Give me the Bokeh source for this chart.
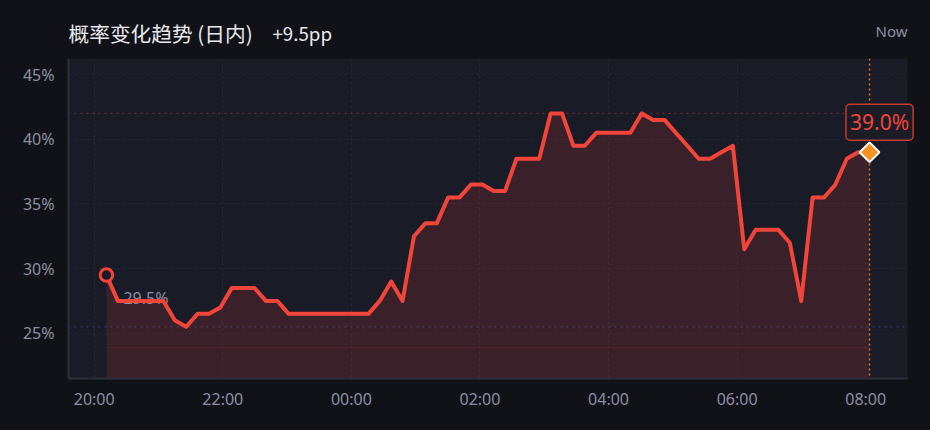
import numpy as np
from bokeh.plotting import figure
from bokeh.layouts import column
from bokeh.models import FixedTicker, Span, Label, Range1d, BoxAnnotation
from bokeh.core.properties import value
from bokeh.embed import file_html
from bokeh.resources import INLINE

# ---- data ----
tick_hours = [0, 2, 4, 6, 8, 10, 12]          # hours after 20:00
tick_labels = ["20:00", "22:00", "00:00", "02:00", "04:00", "06:00", "08:00"]
y_ticks = [25, 30, 35, 40, 45]
y_tick_labels = ["25%", "30%", "35%", "40%", "45%"]

start_hour = 0.19    # ~20:11
end_hour = 12.06     # ~08:03 (now)
prob = [29.5,
        27.5, 27.5, 27.5, 27.5, 27.5,
        26.0, 25.5, 26.5, 26.5, 27.0,
        28.5, 28.5, 28.5, 27.5, 27.5,
        26.5, 26.5, 26.5, 26.5, 26.5, 26.5, 26.5, 26.5,
        27.5, 29.0, 27.5, 32.5, 33.5, 33.5,
        35.5, 35.5, 36.5, 36.5, 36.0, 36.0,
        38.5, 38.5, 38.5, 42.0, 42.0, 39.5, 39.5,
        40.5, 40.5, 40.5, 40.5, 42.0, 41.5, 41.5,
        40.5, 39.5, 38.5, 38.5, 39.0, 39.5,
        31.5, 33.0, 33.0, 33.0, 32.0, 27.5,
        35.5, 35.5, 36.5, 38.5, 39.0, 39.0]
band_floor = 23.9

title_text = "概率变化趋势 (日内)"
now_text = "Now"

t = np.linspace(start_hour, end_hour, len(prob))
delta = prob[-1] - prob[0]

BG = "#111217"
X0, X_END, X_VIEW = -0.40, 12.65, 13.008
Y0, Y1 = 21.5, 46.25

# ---- header ----
head = figure(width=930, height=58, output_backend="svg", toolbar_location=None,
              x_range=Range1d(68, 930), y_range=Range1d(58, 0),
              x_axis_type=None, y_axis_type=None,
              min_border_left=68, min_border_right=0, min_border_top=0, min_border_bottom=0,
              background_fill_color=BG, border_fill_color=BG, outline_line_color=None)
head.xgrid.visible = False
head.ygrid.visible = False
head.text(x=[68], y=[32], text=[title_text],
          text_font=value("Noto Sans CJK SC"), text_font_size=value("20.7px"),
          text_color="#e8e9ee", text_align="left", text_baseline="middle")
head.text(x=[272], y=[32], text=[f"+{delta:.1f}pp"],
          text_font=value("Noto Sans CJK SC"), text_font_size=value("18.7px"),
          text_color="#e8e9ee", text_align="left", text_baseline="middle")
head.text(x=[907], y=[30], text=[now_text],
          text_font=value("Noto Sans"), text_font_size=value("15px"),
          text_color="#8b8fa3", text_align="right", text_baseline="middle")

# ---- main chart ----
p = figure(width=930, height=372, output_backend="svg", toolbar_location=None,
           x_range=Range1d(X0, X_VIEW), y_range=Range1d(Y0, Y1),
           min_border_left=68, min_border_right=0, min_border_top=0, min_border_bottom=52,
           background_fill_color="#191b27", border_fill_color=BG,
           outline_line_color=None)

# grids
p.xgrid.ticker = FixedTicker(ticks=tick_hours)
p.ygrid.ticker = FixedTicker(ticks=y_ticks)
for g in (p.xgrid, p.ygrid):
    g.grid_line_color = "#252737"
    g.grid_line_dash = "3 3"
    g.grid_line_width = 1

# axes
p.xaxis.ticker = FixedTicker(ticks=tick_hours)
p.xaxis.major_label_overrides = {h: l for h, l in zip(tick_hours, tick_labels)}
p.xaxis.bounds = (X0, X_END)
p.yaxis.ticker = FixedTicker(ticks=y_ticks)
p.yaxis.major_label_overrides = {v: l for v, l in zip(y_ticks, y_tick_labels)}
for ax in (p.xaxis, p.yaxis):
    ax.axis_line_color = "#2c2e3e"
    ax.axis_line_width = 2
    ax.major_tick_line_color = None
    ax.minor_tick_line_color = None
    ax.major_label_text_color = "#8b8fa3"
    ax.major_label_text_font = "Noto Sans"
    ax.major_label_text_font_size = "16px"
p.xaxis.major_label_standoff = 3
p.yaxis.major_label_standoff = 8

# reference lines
p.add_layout(Span(location=max(prob), dimension="width", line_color="#6e2c31",
                  line_dash="2 4", line_width=1.3, level="underlay"))
p.add_layout(Span(location=min(prob), dimension="width", line_color="#303c6c",
                  line_dash="2 4", line_width=1.3, level="underlay"))
p.add_layout(Span(location=t[-1], dimension="height", line_color="#e07a1c",
                  line_dash="2 3", line_width=1.5, level="underlay"))

# fill
p.varea(x=t, y1=Y0, y2=prob, fill_color="#f44336", fill_alpha=0.15)
p.line(x=[t[0], t[-1]], y=[band_floor, band_floor], line_color="#f44336",
       line_alpha=0.12, line_width=1)

# start label under the line
p.text(x=[t[0]], y=[prob[0]], text=[f"{prob[0]:.1f}%"], x_offset=17, y_offset=23,
       text_font=value("Noto Sans"), text_font_size=value("16px"),
       text_color="#8b8fa3", text_align="left", text_baseline="middle")

# main line
p.line(x=t, y=prob, line_color="#f2453a", line_width=4, line_join="round")

# markers
p.scatter(x=[t[0]], y=[prob[0]], marker="circle", size=12.5, fill_color="#1a1b26",
          line_color="#f2453a", line_width=3)
p.scatter(x=[t[-1]], y=[prob[-1]], marker="square", angle=np.pi / 4, size=14,
          fill_color="#f7931e", line_color="white", line_width=2)

# mask right of the plotting area (page background)
p.add_layout(BoxAnnotation(left=X_END, fill_color=BG, fill_alpha=1.0,
                           line_color=None, level="annotation"))

# current value label
p.add_layout(Label(x=t[-1], y=prob[-1], text=f"{prob[-1]:.1f}%", x_offset=10, y_offset=30,
                   text_align="center", text_baseline="middle", text_color="#f0463a",
                   text_font="Noto Sans", text_font_size="21px",
                   background_fill_color="#1b1c26", border_line_color="#c8392e",
                   border_line_width=1.5, padding=4, border_radius=4))

layout = column(head, p, spacing=0)
html = file_html(layout, INLINE)
html = html.replace("</head>", "<style>html,body{background:#111217;}</style></head>", 1)
open("out.html", "w").write(html)
